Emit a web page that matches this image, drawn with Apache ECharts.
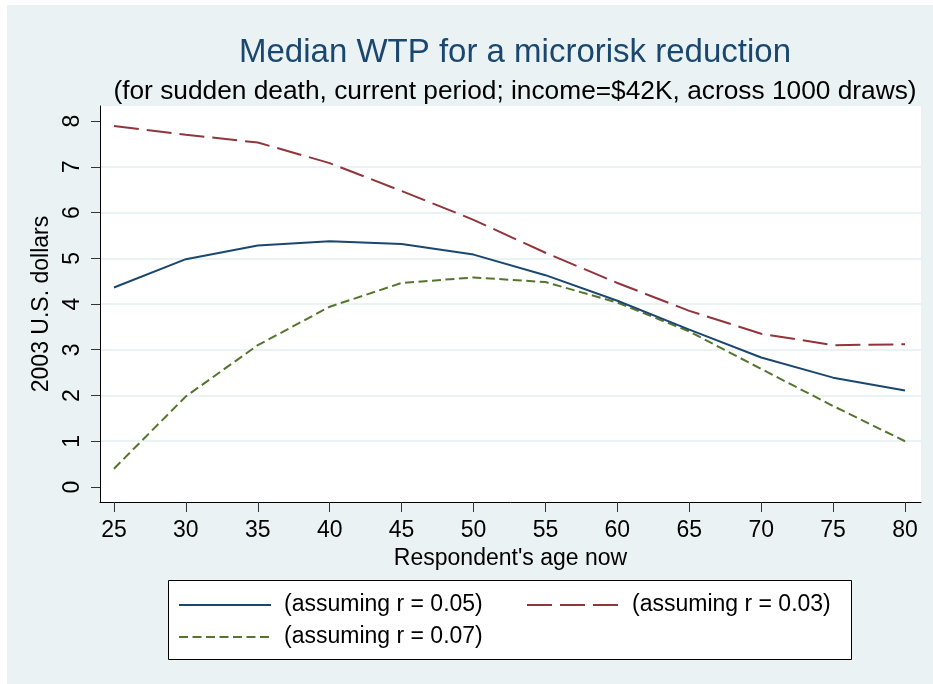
<!DOCTYPE html>
<html>
<head>
<meta charset="utf-8">
<script src="https://cdn.jsdelivr.net/npm/echarts@6/dist/echarts.min.js"></script>
<style>
  html, body { margin: 0; padding: 0; background: #fff; }
  #chart { width: 933px; height: 684px; }
</style>
</head>
<body>
<div id="chart"></div>
<script>
// respondent age (x) and median WTP per assumed discount rate
var ages = [25, 30, 35, 40, 45, 50, 55, 60, 65, 70, 75, 80];
var wtpR05 = [4.36, 4.98, 5.28, 5.37, 5.31, 5.08, 4.63, 4.07, 3.44, 2.83, 2.39, 2.11];
var wtpR03 = [7.89, 7.70, 7.53, 7.08, 6.47, 5.84, 5.12, 4.46, 3.85, 3.35, 3.10, 3.12];
var wtpR07 = [0.40, 1.98, 3.10, 3.94, 4.46, 4.58, 4.48, 4.03, 3.40, 2.58, 1.77, 1.00];
var xTicks = [25, 30, 35, 40, 45, 50, 55, 60, 65, 70, 75, 80];
var yTicks = [0, 1, 2, 3, 4, 5, 6, 7, 8];
var seriesNames = ['(assuming r = 0.05)', '(assuming r = 0.03)', '(assuming r = 0.07)'];

var chart = echarts.init(document.getElementById('chart'));
var font = 'Liberation Sans, Arial, sans-serif';
var bgColor = '#eaf2f3';
var labelSize = 23;

function pairs(ys) {
	var out = [];
	for (var i = 0; i < ages.length; i++) out.push([ages[i], ys[i]]);
	return out;
}

var legendText = { fontFamily: font, fontSize: labelSize, color: '#000', padding: [0, 0, 0, 8], lineHeight: 24 };

var option = {
	backgroundColor: '#ffffff',
	animation: false,
	textStyle: { fontFamily: font },
	graphic: [
		{ type: 'rect', z: -10, shape: { x: 7, y: 5, width: 926, height: 679 }, style: { fill: bgColor } },
		{ type: 'rect', z: -9, shape: { x: 100, y: 106, width: 821, height: 396 }, style: { fill: '#ffffff' } },
		{ type: 'rect', z: -9, shape: { x: 168.5, y: 580.5, width: 683, height: 79 }, style: { fill: '#ffffff', stroke: '#000', lineWidth: 1 } }
	],
	title: [{
		text: 'Median WTP for a microrisk reduction',
		left: 510, top: 31, textAlign: 'center',
		textStyle: { fontFamily: font, fontSize: 33, fontWeight: 'normal', color: '#1a476f' }
	}, {
		text: '(for sudden death, current period; income=$42K, across 1000 draws)',
		left: 510, top: 74, textAlign: 'center',
		textStyle: { fontFamily: font, fontSize: 26.3, fontWeight: 'normal', color: '#000' }
	}],
	legend: [{
		orient: 'vertical', left: 168, top: 593, padding: [0, 0, 0, 10],
		itemWidth: 92, itemHeight: 14, itemGap: 8,
		itemStyle: { opacity: 0 },
		data: [seriesNames[0], seriesNames[2]],
		textStyle: legendText
	}, {
		orient: 'vertical', left: 526, top: 593, padding: 0,
		itemWidth: 92, itemHeight: 14,
		itemStyle: { opacity: 0 },
		data: [seriesNames[1]],
		textStyle: legendText
	}],
	grid: { left: 100, right: 12, top: 106, bottom: 182, containLabel: false },
	xAxis: {
		type: 'value', min: 24.03, max: 81.11,
		name: "Respondent's age now", nameLocation: 'middle', nameGap: 37,
		nameTextStyle: { fontFamily: font, fontSize: labelSize, color: '#000' },
		axisLine: { show: true, onZero: false, lineStyle: { color: '#000', width: 1 } },
		axisTick: { show: true, length: 10, customValues: xTicks, lineStyle: { color: '#333' } },
		axisLabel: { customValues: xTicks, margin: 17, fontFamily: font, fontSize: labelSize, color: '#000' },
		splitLine: { show: false }
	},
	yAxis: {
		type: 'value', min: -0.328, max: 8.328,
		name: '2003 U.S. dollars', nameLocation: 'middle', nameGap: 39,
		nameTextStyle: { fontFamily: font, fontSize: labelSize, color: '#000' },
		axisLine: { show: true, lineStyle: { color: '#000', width: 1 } },
		axisTick: { show: true, length: 9, customValues: yTicks, lineStyle: { color: '#333' } },
		axisLabel: { customValues: yTicks, rotate: 90, margin: 16, fontFamily: font, fontSize: labelSize, color: '#000' },
		splitLine: { show: true, showMinLine: false, showMaxLine: false, lineStyle: { color: bgColor, width: 2 } }
	},
	series: [{
		name: seriesNames[0], type: 'line', data: pairs(wtpR05), symbol: 'none', z: 3,
		lineStyle: { color: '#1a476f', width: 2, type: 'solid' }, itemStyle: { color: '#1a476f' }
	}, {
		name: seriesNames[1], type: 'line', data: pairs(wtpR03), symbol: 'none', z: 2,
		lineStyle: { color: '#90353b', width: 2, type: [25, 8] }, itemStyle: { color: '#90353b' }
	}, {
		name: seriesNames[2], type: 'line', data: pairs(wtpR07), symbol: 'none', z: 2,
		lineStyle: { color: '#55752f', width: 2, type: [9, 4.5] }, itemStyle: { color: '#55752f' }
	}]
};
chart.setOption(option);
</script>
</body>
</html>
